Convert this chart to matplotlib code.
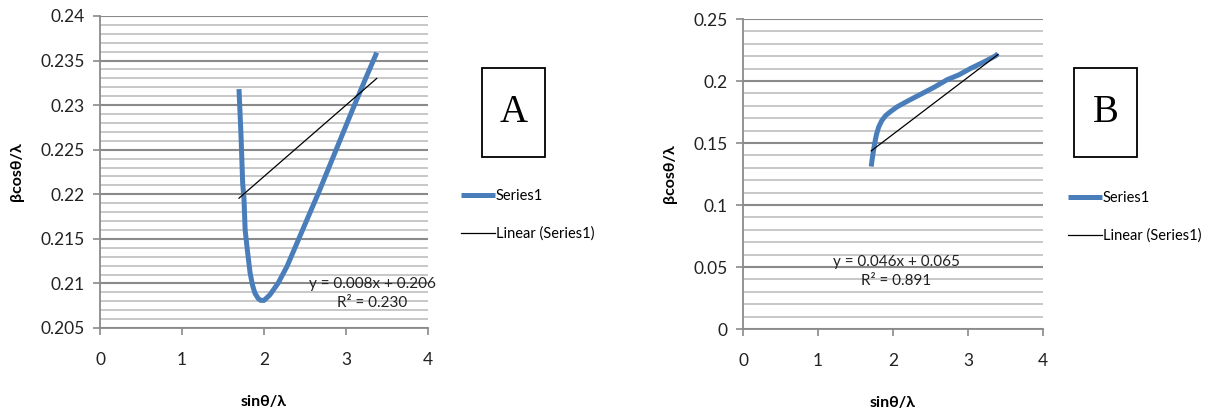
import numpy as np
import matplotlib.pyplot as plt
from matplotlib.patches import Rectangle

# panel A data
xa = [1.695, 1.72, 1.74, 1.756, 1.77, 1.80, 1.83, 1.86, 1.89, 1.93, 1.96, 2.00, 2.07, 2.17, 2.28, 2.48,
      2.68, 2.88, 3.08, 3.24, 3.375]
ya = [0.2318, 0.2265, 0.2212, 0.2195, 0.2160, 0.2135, 0.2112, 0.2098, 0.2089, 0.2083, 0.2081, 0.2081,
      0.2087, 0.2100, 0.2119, 0.2162, 0.2205, 0.2250, 0.2295, 0.2330, 0.2359]
fit_a = (0.008, 0.206)
eq_a = "y = 0.008x + 0.206"
r2_a = "R² = 0.230"

# panel B data
xb = [1.71, 1.72, 1.74, 1.76, 1.78, 1.81, 1.85, 1.90, 1.96, 2.05, 2.20, 2.36, 2.55, 2.72, 2.88, 3.03,
      3.20, 3.36, 3.40]
yb = [0.131, 0.136, 0.144, 0.151, 0.157, 0.163, 0.168, 0.172, 0.175, 0.179, 0.184, 0.189, 0.195, 0.201,
      0.205, 0.210, 0.215, 0.220, 0.222]
fit_b = (0.046, 0.065)
eq_b = "y = 0.046x + 0.065"
r2_b = "R² = 0.891"

blue = '#4a7ebb'
W, H = 1211, 411
plt.rcParams['font.family'] = ['Lato', 'DejaVu Sans']
fig = plt.figure(figsize=(W / 100, H / 100), dpi=100)


def px(x0, y0, x1, y1):
    return [x0 / W, 1 - y1 / H, (x1 - x0) / W, (y1 - y0) / H]


def panel(rect, x, y, fit, ylim, major, minor, yfmt, eq, r2, eqpos):
    ax = fig.add_axes(rect)
    ax.plot(x, y, color=blue, lw=3.6, solid_capstyle='butt', solid_joinstyle='round', label='Series1')
    xs = np.array([min(x), max(x)])
    ax.plot(xs, fit[0] * xs + fit[1], color='black', lw=0.9, label='Linear (Series1)')
    ax.set_xlim(0, 4)
    ax.set_ylim(*ylim)
    ax.set_xticks([0, 1, 2, 3, 4])
    yt = np.arange(ylim[0], ylim[1] + major / 2, major)
    ax.set_yticks(yt)
    ax.set_yticklabels([yfmt(v) for v in yt])
    ax.set_yticks(np.arange(ylim[0], ylim[1] + minor / 2, minor), minor=True)
    ax.grid(axis='y', which='major', color='#8a8a8a', lw=1.5)
    ax.grid(axis='y', which='minor', color='#c4c4c4', lw=1.3)
    ax.set_axisbelow(True)
    for s in ['top', 'right']:
        ax.spines[s].set_visible(False)
    for s in ['left', 'bottom']:
        ax.spines[s].set_color('#8a8a8a')
        ax.spines[s].set_linewidth(1.3)
    ax.tick_params(axis='both', which='major', color='#8a8a8a', length=5, width=1.2, labelsize=12.5,
                   labelcolor='#222222')
    ax.tick_params(axis='x', pad=12)
    ax.tick_params(axis='y', pad=6)
    ax.tick_params(axis='y', which='minor', length=0)
    ax.set_xlabel('sinθ/λ', fontsize=11.5, fontweight='bold', labelpad=20)
    ax.set_ylabel('βcosθ/λ', fontsize=11.5, fontweight='bold', labelpad=12)
    ax.text(eqpos[0], eqpos[1], eq + "\n" + r2, transform=ax.transData, ha='center', va='center',
            fontsize=11, color='#222222', linespacing=1.45)
    return ax


def side(ax, box, letter, lx, ly):
    x0, y0, x1, y1 = box
    fig.patches.append(Rectangle((x0 / W, 1 - y1 / H), (x1 - x0) / W, (y1 - y0) / H,
                                 transform=fig.transFigure, fill=False, ec='black', lw=1.3))
    fig.text((x0 + x1) / 2 / W, 1 - (y0 + y1) / 2 / H, letter, ha='center', va='center',
             fontsize=28, family='Liberation Serif')
    ax.legend(loc='upper left', bbox_to_anchor=(lx / W, 1 - ly / H), bbox_transform=fig.transFigure,
              frameon=False, fontsize=10.5, handlelength=2.3, handletextpad=0.1, labelspacing=1.6,
              borderaxespad=0, borderpad=0)


axA = panel(px(100, 16, 428, 328), xa, ya, fit_a, (0.205, 0.24), 0.005, 0.001,
            lambda v: f"{v:.3f}".rstrip('0'), eq_a, r2_a, (3.32, 0.2089))
axB = panel(px(743, 19, 1043, 329), xb, yb, fit_b, (0.0, 0.25), 0.05, 0.01,
            lambda v: "0" if v == 0 else f"{v:.2f}".rstrip('0'), eq_b, r2_b, (2.04, 0.046))
side(axA, (482, 68, 545, 157), 'A', 461, 189)
side(axB, (1074, 68, 1137, 157), 'B', 1068, 191)

fig.savefig('out.png', dpi=100)
